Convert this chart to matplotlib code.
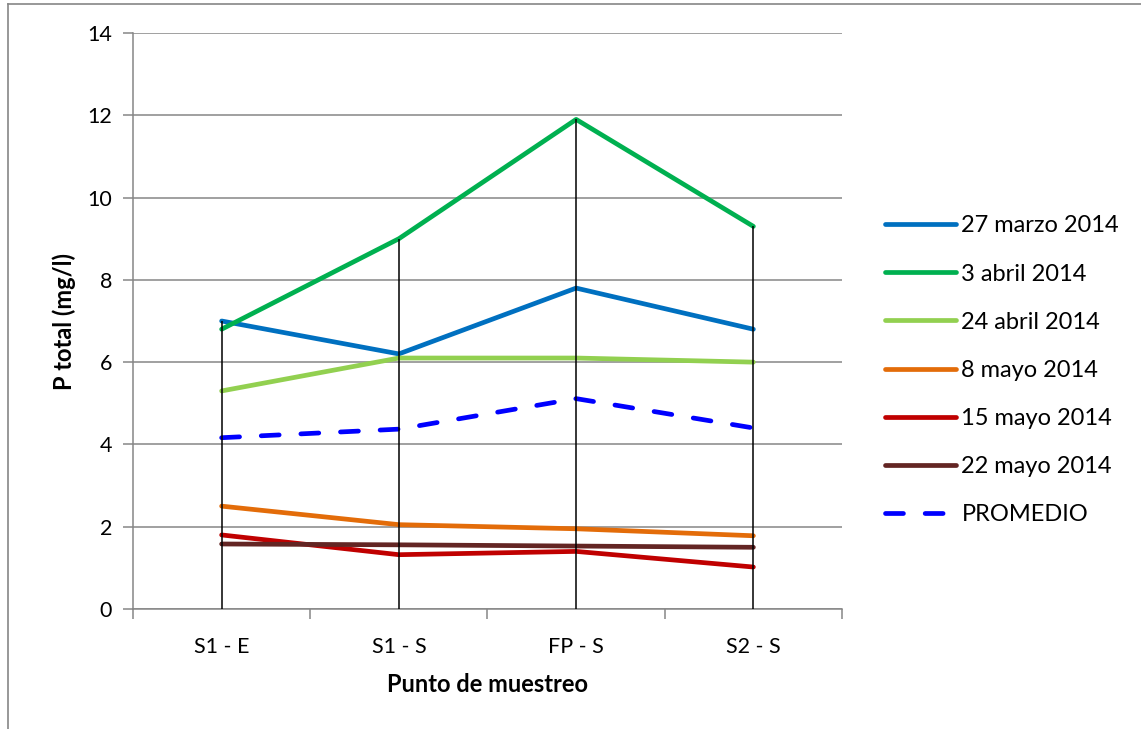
import matplotlib
matplotlib.use("Agg")
import matplotlib.pyplot as plt
from matplotlib.lines import Line2D
import numpy as np

plt.rcParams['font.family'] = ['Lato', 'DejaVu Sans']

categories = ["S1 - E", "S1 - S", "FP - S", "S2 - S"]
series_names = ["27 marzo 2014", "3 abril 2014", "24 abril 2014",
                "8 mayo 2014", "15 mayo 2014", "22 mayo 2014"]
marzo_27 = [7.0, 6.2, 7.8, 6.8]
abril_3 = [6.8, 9.0, 11.9, 9.3]
abril_24 = [5.3, 6.1, 6.1, 6.0]
mayo_8 = [2.5, 2.05, 1.95, 1.78]
mayo_15 = [1.8, 1.32, 1.4, 1.02]
mayo_22 = [1.58, 1.56, 1.53, 1.5]
series_colors = ["#0070C0", "#00B050", "#92D050", "#E36C09", "#C00000", "#632523"]
avg_color = "#0000FF"
yticks = [0, 2, 4, 6, 8, 10, 12, 14]

series = [marzo_27, abril_3, abril_24, mayo_8, mayo_15, mayo_22]
promedio = np.mean(np.array(series), axis=0)

fig = plt.figure(figsize=(11.41, 7.29), dpi=100)
ax = fig.add_axes([133/1141, 1 - 609/729, (842-133)/1141, 576/729])

x = np.arange(len(categories))
grid_c = "#868686"
lw = 3.4

for vals, name, col in zip(series, series_names, series_colors):
    ax.plot(x, vals, color=col, lw=lw, solid_capstyle='round',
            solid_joinstyle='round', label=name, zorder=3)
ax.plot(x, promedio, color=avg_color, lw=lw, dashes=(3.8, 4.6),
        dash_capstyle='round', label="PROMEDIO", zorder=3)

# drop lines from the highest point of each category down to the axis
top = np.max(np.vstack(series + [promedio]), axis=0)
ax.vlines(x, 0, top, color="black", lw=1.1, zorder=4)

ax.set_xlim(-0.5, len(categories) - 0.5)
ax.set_ylim(0, 14)
ax.set_yticks(yticks)
ax.set_xticks(x)
ax.set_xticklabels(categories)
ax.set_xticks(np.arange(-0.5, len(categories)), minor=True)
ax.tick_params(axis='x', which='major', length=0, pad=20, labelsize=15.5)
ax.tick_params(axis='x', which='minor', length=7, width=1.1, color=grid_c)
ax.tick_params(axis='y', length=7, width=1.1, color=grid_c, pad=8, labelsize=15.5)

ax.yaxis.grid(True, color=grid_c, lw=1.1)
ax.set_axisbelow(True)
for s in ['top', 'right']:
    ax.spines[s].set_visible(False)
for s in ['left', 'bottom']:
    ax.spines[s].set_color(grid_c)
    ax.spines[s].set_linewidth(1.1)

ax.set_ylabel("P total (mg/l)", fontsize=17, fontweight='bold', labelpad=8)
ax.set_xlabel("Punto de muestreo", fontsize=17, fontweight='bold', labelpad=12)

leg = fig.legend(loc='upper left', bbox_to_anchor=(876/1141, 1 - 206/729),
                 frameon=False, fontsize=17, handlelength=3.0,
                 handletextpad=0.22, labelspacing=1.15, borderaxespad=0)

# outer chart frame
fig.add_artist(Line2D([8/1141, 1], [1 - 4/729, 1 - 4/729], color=grid_c, lw=1.2,
                      transform=fig.transFigure))
fig.add_artist(Line2D([8/1141, 8/1141], [0, 1 - 4/729], color=grid_c, lw=1.2,
                      transform=fig.transFigure))

fig.savefig("out.png", dpi=100)
